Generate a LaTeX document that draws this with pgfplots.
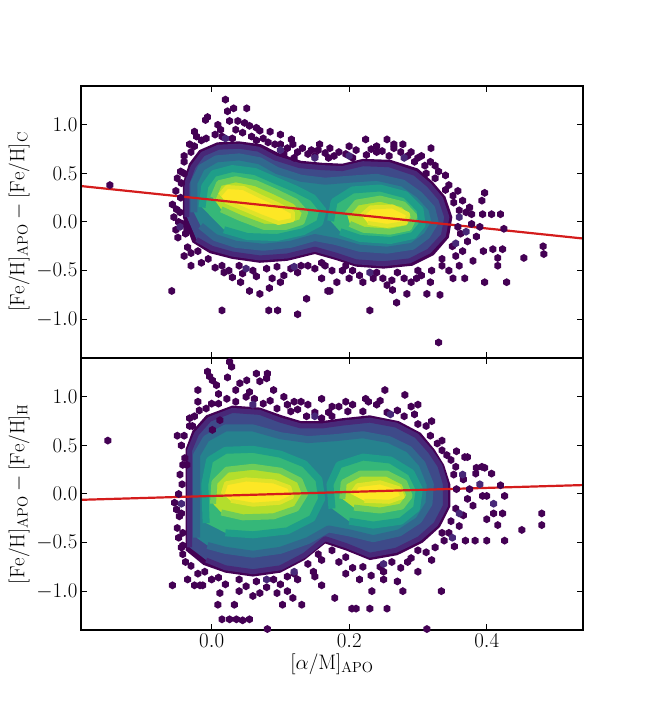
\RequirePackage{fix-cm}
\documentclass[border=0pt]{standalone}
\usepackage{fontspec}
\usepackage{pgfplots}
\pgfplotsset{compat=1.18}

\definecolor{c0}{HTML}{440154}
\definecolor{c1}{HTML}{482878}
\definecolor{c2}{HTML}{3E4A89}
\definecolor{c3}{HTML}{31688E}
\definecolor{c4}{HTML}{26828E}
\definecolor{c5}{HTML}{1F9E89}
\definecolor{c6}{HTML}{35B779}
\definecolor{c7}{HTML}{6DCD59}
\definecolor{c8}{HTML}{B4DE2C}
\definecolor{c9}{HTML}{FDE725}
\definecolor{lred}{HTML}{D41C1C}

\pgfdeclareplotmark{hex}{%
 \pgfpathmoveto{\pgfpointpolar{90}{\pgfplotmarksize}}%
 \pgfpathlineto{\pgfpointpolar{150}{\pgfplotmarksize}}%
 \pgfpathlineto{\pgfpointpolar{210}{\pgfplotmarksize}}%
 \pgfpathlineto{\pgfpointpolar{270}{\pgfplotmarksize}}%
 \pgfpathlineto{\pgfpointpolar{330}{\pgfplotmarksize}}%
 \pgfpathlineto{\pgfpointpolar{30}{\pgfplotmarksize}}%
 \pgfpathclose\pgfusepathqfill}

\pgfplotsset{
 hexd/.style={only marks, mark=hex, mark size=4bp, color=c0},
 hexb/.style={only marks, mark=hex, mark size=4bp, color=c1},
 lay0/.style={fill=c0, draw=none},
 lay1/.style={fill=c2, draw=c1, line width=5bp, line join=round},
 lay2/.style={fill=c4, draw=c3, line width=7bp, line join=round},
 lay3/.style={fill=c6, draw=c5, line width=7bp, line join=round},
 lay4/.style={fill=c8, draw=c7, line width=6bp, line join=round},
 lay5/.style={fill=c9, draw=c9!60!c8, line width=4bp, line join=round},
 panel/.style={
 scale only axis, width=502bp, height=272bp,
 xmin=-0.19, xmax=0.54, ymin=-1.4, ymax=1.4,
 xtick={0,0.2,0.4}, ytick={-1,-0.5,0,0.5,1},
 tick align=inside, tick pos=both,
 major tick length=6bp,
 axis line style={line width=1.1bp},
 tick style={black, line width=1bp},
 tick label style={font=\fontsize{21}{25}\selectfont},
 label style={font=\fontsize{21}{25}\selectfont},
 yticklabel style={/pgf/number format/fixed, /pgf/number format/fixed zerofill, /pgf/number format/precision=1},
 xticklabel style={/pgf/number format/fixed, /pgf/number format/fixed zerofill, /pgf/number format/precision=1},
 axis on top,
}}

\begin{document}
\begin{tikzpicture}
\path (-81bp,-90bp) rectangle (567bp,630bp);

% ---------------- top panel ----------------
\begin{axis}[panel, at={(0,272bp)}, anchor=south west, xticklabels={},
 ylabel={$[\mathrm{Fe/H}]_{\mathrm{APO}}-[\mathrm{Fe/H}]_{\mathrm{C}}$}]
\addplot[lay0] coordinates {
(-0.042,0.05) (-0.042,0.40) (-0.033,0.60) (-0.018,0.74) (0.008,0.82) (0.040,0.83)
(0.072,0.80) (0.097,0.71) (0.130,0.63) (0.160,0.61) (0.190,0.60) (0.220,0.65)
(0.260,0.64) (0.300,0.55) (0.322,0.41) (0.340,0.26) (0.350,0.05) (0.345,-0.16)
(0.323,-0.34) (0.292,-0.45) (0.250,-0.48) (0.210,-0.46) (0.180,-0.39) (0.150,-0.33)
(0.110,-0.40) (0.070,-0.42) (0.030,-0.38) (-0.003,-0.32) (-0.028,-0.21)};
\addplot[lay1] coordinates {
(-0.036,0.05) (-0.036,0.40) (-0.027,0.57) (-0.013,0.70) (0.010,0.77) (0.040,0.78)
(0.068,0.75) (0.092,0.66) (0.128,0.58) (0.160,0.56) (0.190,0.55) (0.220,0.60)
(0.258,0.59) (0.296,0.50) (0.316,0.38) (0.333,0.24) (0.342,0.05) (0.337,-0.14)
(0.316,-0.30) (0.288,-0.40) (0.250,-0.43) (0.210,-0.41) (0.180,-0.34) (0.150,-0.28)
(0.110,-0.35) (0.070,-0.37) (0.030,-0.33) (0.000,-0.27) (-0.022,-0.18)};
\addplot[lay2] coordinates {
(-0.026,0.10) (-0.026,0.40) (-0.015,0.56) (0.007,0.65) (0.040,0.67) (0.070,0.63)
(0.095,0.53) (0.130,0.45) (0.165,0.42) (0.200,0.44) (0.240,0.46) (0.278,0.40)
(0.302,0.28) (0.320,0.14) (0.325,0.00) (0.313,-0.14) (0.292,-0.25) (0.255,-0.29)
(0.215,-0.27) (0.180,-0.20) (0.150,-0.16) (0.115,-0.23) (0.075,-0.26) (0.035,-0.23)
(0.005,-0.16) (-0.016,-0.04)};
\addplot[lay3] coordinates {
(-0.014,0.15) (-0.010,0.37) (0.003,0.50) (0.030,0.55) (0.063,0.52) (0.092,0.43)
(0.122,0.34) (0.147,0.25) (0.162,0.12) (0.157,-0.01) (0.133,-0.10) (0.095,-0.16)
(0.052,-0.15) (0.018,-0.08)};
\addplot[lay3] coordinates {
(0.173,0.01) (0.178,0.21) (0.205,0.33) (0.245,0.35) (0.282,0.28) (0.303,0.13)
(0.306,-0.03) (0.293,-0.14) (0.260,-0.19) (0.216,-0.17) (0.187,-0.10)};
\addplot[lay4] coordinates {
(0.002,0.25) (0.011,0.40) (0.035,0.44) (0.064,0.40) (0.093,0.31) (0.122,0.21)
(0.136,0.10) (0.131,0.00) (0.108,-0.05) (0.076,-0.05) (0.042,0.04) (0.014,0.13)};
\addplot[lay4] coordinates {
(0.197,0.08) (0.211,0.20) (0.245,0.24) (0.279,0.18) (0.295,0.06) (0.287,-0.06)
(0.259,-0.10) (0.221,-0.08) (0.201,-0.02)};
\addplot[lay5] coordinates {
(0.012,0.28) (0.022,0.36) (0.046,0.35) (0.072,0.26) (0.097,0.18) (0.118,0.10)
(0.118,0.02) (0.097,-0.01) (0.071,0.06) (0.041,0.15) (0.020,0.21)};
\addplot[lay5] coordinates {
(0.218,0.07) (0.231,0.15) (0.263,0.16) (0.286,0.08) (0.282,-0.01) (0.255,-0.04) (0.227,-0.01)};
% fringe hexes
\addplot[hexd] coordinates {
(-0.030,0.72) (-0.015,0.84) (0.005,0.90) (0.045,0.92) (0.075,0.86) (0.092,0.80)
(0.110,0.76) (0.125,0.72) (0.140,0.70) (0.165,0.71) (0.178,0.68) (0.210,0.74)
(0.232,0.75) (0.248,0.73) (0.275,0.72) (0.300,0.66) (0.318,0.62) (0.330,0.52)
(0.345,0.38) (0.358,0.32) (0.370,0.10) (0.378,-0.02) (0.372,-0.20) (0.355,-0.35)
(0.335,-0.45) (0.305,-0.55) (0.280,-0.58) (0.262,-0.60) (0.235,-0.58) (0.215,-0.55)
(0.190,-0.50) (0.165,-0.45) (0.140,-0.45) (0.125,-0.52) (0.105,-0.55) (0.088,-0.58)
(0.065,-0.56) (0.045,-0.53) (0.025,-0.50) (0.005,-0.47) (-0.015,-0.42) (-0.030,-0.32)
(-0.052,-0.08) (-0.055,0.05) (-0.052,0.32) (-0.045,0.52)
(-0.040,0.68) (-0.025,0.78) (-0.008,0.86) (0.015,0.88) (0.030,0.86) (0.058,0.88)
(0.065,0.84) (0.082,0.82) (0.100,0.80) (0.118,0.80) (0.105,0.70) (0.120,0.66)
(0.150,0.68) (0.155,0.74) (0.170,0.66) (0.195,0.70) (0.205,0.66) (0.225,0.69)
(0.240,0.72) (0.258,0.68) (0.265,0.80) (0.285,0.68) (0.295,0.62) (0.310,0.58)
(0.312,0.50) (0.325,0.45) (0.340,0.33) (0.352,0.20) (0.360,0.12) (0.358,-0.05)
(0.362,-0.12) (0.350,-0.25) (0.335,-0.38) (0.345,-0.50) (0.365,-0.30) (0.320,-0.50)
(0.300,-0.50) (0.290,-0.62) (0.270,-0.52) (0.255,-0.65) (0.240,-0.52) (0.220,-0.62)
(0.205,-0.50) (0.195,-0.45) (0.175,-0.50) (0.160,-0.42) (0.150,-0.48) (0.130,-0.45)
(0.115,-0.48) (0.095,-0.46) (0.080,-0.48) (0.060,-0.50) (0.040,-0.45) (0.015,-0.45)
(-0.005,-0.38) (-0.020,-0.30) (-0.035,-0.26) (-0.048,0.00) (-0.046,0.10) (-0.044,0.40)
(-0.040,0.50) (-0.038,-0.12)};
% outlying hexes
\addplot[hexd] coordinates {
(-0.148,0.38) (0.020,1.26) (0.032,1.17) (0.051,1.17) (0.023,1.14) (-0.006,1.08)
(-0.009,1.05) (0.009,1.00) (0.026,1.04) (0.038,1.04) (0.048,1.02) (0.055,0.99)
(0.065,0.97) (-0.025,0.93) (-0.022,0.88) (-0.032,0.80) (0.013,0.95) (0.035,0.95)
(0.070,0.94) (0.085,0.93) (0.100,0.90) (0.116,0.85) (0.132,0.76) (0.157,0.80)
(0.172,0.76) (0.145,0.74) (0.185,0.72) (0.200,0.78) (0.224,0.85) (0.255,0.85)
(0.278,0.80) (0.319,0.76) (0.240,0.78) (0.265,0.76) (0.290,0.72) (0.305,0.68)
(0.325,0.58) (0.340,0.48) (0.351,0.27) (0.365,0.22) (0.393,0.22) (0.397,0.30)
(0.378,0.08) (0.394,0.08) (0.407,0.08) (0.420,0.08) (0.425,-0.07) (0.390,-0.05)
(0.375,0.15) (0.385,-0.15) (0.409,-0.28) (0.423,-0.28) (0.416,-0.37) (0.416,-0.45)
(0.454,-0.37) (0.482,-0.25) (0.483,-0.33) (0.395,-0.30) (0.380,-0.40) (0.429,-0.62)
(0.397,-0.62) (0.368,-0.58) (0.351,-0.58) (0.360,-0.45) (0.332,-0.75) (0.313,-0.74)
(0.284,-0.74) (0.269,-0.83) (0.230,-0.91) (0.182,-0.62) (0.172,-0.71) (0.249,-0.58)
(0.263,-0.70) (0.298,-0.58) (0.330,-1.24) (0.318,-0.62) (0.200,-0.58) (0.160,-0.58)
(0.169,-0.71) (0.138,-0.79) (0.125,-0.95) (0.083,-0.91) (0.096,-0.91) (0.015,-0.91)
(0.084,-0.68) (0.070,-0.74) (0.055,-0.71) (0.100,-0.62) (0.030,-0.57) (0.042,-0.62)
(0.018,-0.52) (-0.058,-0.71) (-0.057,0.18) (-0.051,0.13) (-0.049,-0.16) (-0.036,-0.07)
(-0.042,-0.02) (-0.045,0.25) (-0.040,-0.35) (-0.030,-0.45) (-0.050,0.45) (-0.040,0.62)};
\addplot[hexb] coordinates {
(0.360,0.05) (0.370,-0.10) (0.355,-0.22) (0.050,-0.48) (0.200,0.68) (0.100,0.74)
(0.020,0.86) (0.150,0.66) (0.280,0.66) (0.230,-0.52) (0.120,-0.46) (-0.046,-0.05)};
\addplot[lred, line width=2.2bp] coordinates {(-0.19,0.37) (0.54,-0.17)};
\end{axis}

% ---------------- bottom panel ----------------
\begin{axis}[panel, at={(0,0)}, anchor=south west,
 xlabel={$[\alpha/\mathrm{M}]_{\mathrm{APO}}$},
 ylabel={$[\mathrm{Fe/H}]_{\mathrm{APO}}-[\mathrm{Fe/H}]_{\mathrm{H}}$}]
\addplot[lay0] coordinates {
(-0.038,-0.58) (-0.038,0.46) (-0.028,0.65) (-0.008,0.81) (0.030,0.91) (0.070,0.89)
(0.102,0.81) (0.130,0.75) (0.160,0.75) (0.190,0.78) (0.230,0.81) (0.272,0.75)
(0.304,0.63) (0.324,0.46) (0.338,0.30) (0.347,0.10) (0.347,-0.13) (0.332,-0.34)
(0.307,-0.50) (0.270,-0.63) (0.230,-0.68) (0.195,-0.58) (0.165,-0.51) (0.135,-0.68)
(0.100,-0.81) (0.060,-0.85) (0.020,-0.81) (-0.012,-0.73)};
\addplot[lay1] coordinates {
(-0.032,-0.55) (-0.032,0.45) (-0.022,0.62) (-0.003,0.77) (0.030,0.86) (0.070,0.84)
(0.100,0.76) (0.130,0.70) (0.160,0.70) (0.190,0.73) (0.230,0.76) (0.268,0.71)
(0.298,0.60) (0.318,0.44) (0.332,0.29) (0.340,0.10) (0.340,-0.12) (0.326,-0.31)
(0.302,-0.46) (0.268,-0.58) (0.230,-0.63) (0.195,-0.53) (0.165,-0.46) (0.135,-0.63)
(0.100,-0.76) (0.060,-0.80) (0.020,-0.76) (-0.008,-0.68)};
\addplot[lay2] coordinates {
(-0.022,-0.45) (-0.022,0.40) (-0.008,0.57) (0.020,0.68) (0.060,0.68) (0.100,0.60)
(0.140,0.56) (0.180,0.58) (0.220,0.61) (0.258,0.56) (0.287,0.46) (0.306,0.31)
(0.318,0.10) (0.316,-0.10) (0.301,-0.27) (0.273,-0.40) (0.235,-0.46) (0.200,-0.40)
(0.170,-0.36) (0.140,-0.48) (0.100,-0.58) (0.060,-0.62) (0.020,-0.58) (-0.006,-0.53)};
\addplot[lay3] coordinates {
(-0.008,-0.30) (-0.010,0.10) (-0.003,0.35) (0.020,0.45) (0.060,0.46) (0.100,0.41)
(0.135,0.31) (0.156,0.15) (0.160,-0.05) (0.146,-0.25) (0.110,-0.38) (0.060,-0.42)
(0.020,-0.40)};
\addplot[lay3] coordinates {
(0.175,-0.15) (0.172,0.10) (0.185,0.30) (0.220,0.38) (0.260,0.35) (0.290,0.22)
(0.302,0.05) (0.298,-0.15) (0.275,-0.28) (0.235,-0.32) (0.200,-0.28)};
\addplot[lay4] coordinates {
(0.002,-0.10) (0.004,0.12) (0.022,0.25) (0.060,0.28) (0.100,0.24) (0.128,0.14)
(0.136,0.00) (0.123,-0.15) (0.090,-0.23) (0.045,-0.24) (0.014,-0.19)};
\addplot[lay4] coordinates {
(0.190,-0.05) (0.192,0.12) (0.216,0.21) (0.255,0.21) (0.280,0.12) (0.288,-0.02)
(0.276,-0.13) (0.245,-0.17) (0.207,-0.14)};
\addplot[lay5] coordinates {
(0.016,0.00) (0.021,0.11) (0.050,0.15) (0.090,0.13) (0.113,0.07) (0.117,-0.03)
(0.099,-0.09) (0.060,-0.11) (0.028,-0.07)};
\addplot[lay5] coordinates {
(0.203,0.00) (0.212,0.09) (0.245,0.12) (0.272,0.06) (0.278,-0.03) (0.258,-0.08) (0.222,-0.07)};
% fringe hexes
\addplot[hexd] coordinates {
(-0.032,0.70) (-0.018,0.86) (0.000,0.93) (0.022,0.98) (0.050,1.00) (0.085,0.96)
(0.110,0.92) (0.125,0.87) (0.150,0.84) (0.170,0.84) (0.185,0.90) (0.205,0.92)
(0.240,0.92) (0.270,0.86) (0.295,0.82) (0.312,0.70) (0.328,0.52) (0.342,0.40)
(0.355,0.28) (0.366,0.15) (0.372,-0.05) (0.366,-0.22) (0.360,-0.33) (0.338,-0.48)
(0.312,-0.60) (0.290,-0.66) (0.275,-0.76) (0.250,-0.80) (0.232,-0.84) (0.205,-0.76)
(0.185,-0.70) (0.160,-0.68) (0.148,-0.80) (0.125,-0.88) (0.100,-0.93) (0.080,-0.96)
(0.050,-0.95) (0.020,-0.93) (0.000,-0.88) (-0.020,-0.82) (-0.038,-0.70) (-0.048,-0.45)
(-0.050,-0.35) (-0.048,0.00) (-0.046,0.20) (-0.044,0.50)
(-0.040,0.60) (-0.025,0.80) (-0.008,0.88) (0.010,0.93) (0.035,0.95) (0.062,0.98)
(0.075,0.93) (0.095,0.88) (0.115,0.85) (0.138,0.80) (0.160,0.78) (0.175,0.80)
(0.198,0.85) (0.220,0.85) (0.255,0.84) (0.280,0.80) (0.300,0.72) (0.318,0.60)
(0.335,0.45) (0.290,0.90) (0.245,0.96) (0.130,0.95) (0.348,0.35) (0.352,0.20)
(0.356,0.05) (0.355,-0.15) (0.348,-0.28) (0.335,-0.40) (0.325,-0.55) (0.300,-0.58)
(0.285,-0.70) (0.262,-0.70) (0.245,-0.75) (0.220,-0.75) (0.195,-0.65) (0.175,-0.58)
(0.155,-0.62) (0.140,-0.72) (0.120,-0.82) (0.110,-0.85) (0.090,-0.88) (0.065,-0.90)
(0.040,-0.88) (0.010,-0.86) (-0.010,-0.80) (-0.030,-0.74) (-0.042,-0.62) (0.060,-1.05)
(0.110,-1.00) (-0.042,-0.40) (-0.044,-0.20) (-0.043,0.10) (-0.042,0.30)};
% outlying hexes
\addplot[hexd] coordinates {
(-0.151,0.55) (0.026,1.36) (0.029,1.31) (-0.006,1.26) (-0.003,1.21) (0.001,1.17)
(0.007,1.12) (0.023,1.20) (0.041,1.14) (0.051,1.17) (0.065,1.24) (0.070,1.16)
(0.081,1.24) (0.080,1.19) (-0.020,1.07) (-0.020,0.95) (0.010,1.03) (0.035,1.07)
(0.055,1.05) (0.090,1.07) (0.105,1.00) (0.120,0.95) (0.140,0.92) (0.160,0.98)
(0.175,0.90) (0.195,0.95) (0.252,1.07) (0.281,1.02) (0.224,0.98) (0.228,0.95)
(0.300,0.92) (0.320,0.75) (0.335,0.55) (0.012,0.76) (0.001,0.66) (-0.032,0.78)
(-0.028,0.70) (-0.054,-0.09) (-0.051,-0.16) (-0.047,-0.23) (-0.039,0.37) (-0.036,0.30)
(-0.042,-0.53) (-0.044,-0.55) (-0.057,-0.94) (-0.050,0.60) (-0.035,-0.88) (-0.025,-0.94)
(-0.017,-0.94) (-0.013,-0.94) (0.012,-1.02) (0.009,-1.14) (0.033,-1.14) (0.015,-1.29)
(0.026,-1.29) (0.036,-1.29) (0.045,-1.30) (0.055,-1.29) (0.095,-1.02) (0.103,-1.14)
(0.118,-1.07) (0.131,-1.14) (0.179,-1.07) (0.160,-0.94) (0.081,-1.39) (0.040,-1.00)
(0.070,-1.02) (0.150,-0.85) (0.356,0.44) (0.368,0.38) (0.372,0.38) (0.385,0.27)
(0.393,0.28) (0.397,0.27) (0.407,0.21) (0.384,0.21) (0.420,0.09) (0.426,-0.02)
(0.400,-0.02) (0.394,-0.02) (0.375,0.05) (0.380,-0.12) (0.423,-0.20) (0.410,-0.20)
(0.400,-0.26) (0.480,-0.20) (0.480,-0.32) (0.451,-0.37) (0.416,-0.32) (0.426,-0.48)
(0.400,-0.48) (0.383,-0.48) (0.369,-0.48) (0.353,-0.54) (0.345,-0.40) (0.334,-1.00)
(0.278,-1.00) (0.233,-1.00) (0.255,-1.18) (0.230,-1.18) (0.210,-1.18) (0.204,-1.18)
(0.313,-1.39) (0.300,-0.80) (0.320,-0.68) (0.270,-0.90) (0.250,-0.88) (0.215,-0.88)
(0.195,-0.82)};
\addplot[hexb] coordinates {
(0.360,-0.20) (0.365,0.20) (0.410,-0.10) (0.390,0.10) (0.350,-0.45) (0.060,0.92)
(0.080,-0.88) (0.150,0.80) (0.260,0.82) (0.250,-0.72) (0.120,-0.80) (-0.044,-0.10)};
\addplot[lred, line width=2.2bp] coordinates {(-0.19,-0.06) (0.54,0.092)};
\end{axis}
\end{tikzpicture}
\end{document}
